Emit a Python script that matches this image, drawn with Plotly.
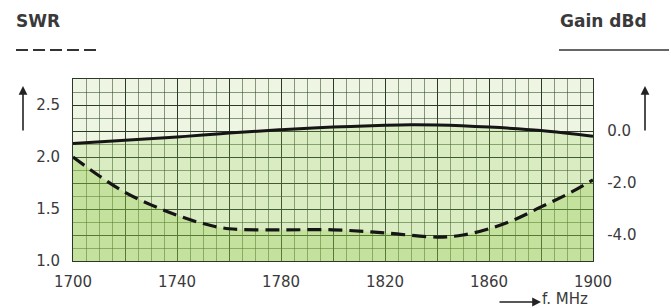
import plotly.graph_objects as go

# ---- data ----
freq_swr = [1700, 1710, 1720, 1730, 1740, 1750, 1760, 1780, 1800, 1820, 1840, 1850, 1860, 1870, 1880, 1890, 1900]
swr = [2.00, 1.82, 1.66, 1.54, 1.44, 1.36, 1.31, 1.30, 1.30, 1.27, 1.23, 1.25, 1.31, 1.40, 1.52, 1.64, 1.78]

freq_gain = [1700, 1720, 1740, 1760, 1780, 1800, 1820, 1830, 1840, 1860, 1880, 1900]
gain = [-0.48, -0.36, -0.23, -0.08, 0.05, 0.15, 0.22, 0.24, 0.23, 0.15, 0.02, -0.20]

x_ticks = list(range(1700, 1901, 20))
x_ticktext = [str(v) if (v - 1700) % 40 == 0 else "" for v in x_ticks]

swr_range = [1.0, 2.75]
swr_ticks = [1.0, 1.5, 2.0, 2.5]
swr_ticktext = ["1.0", "1.5", "2.0", "2.5"]

gain_range = [-5, 2]
gain_ticks = list(range(-5, 3))
gain_ticktext = ["-4.0" if v == -4 else "-2.0" if v == -2 else "0.0" if v == 0 else "" for v in gain_ticks]
gain_floor = [gain_range[0]] * len(freq_gain)

# ---- layout geometry (pixels) ----
W, H = 671, 308
L, R, T, B = 73, 593, 79, 261


def px(x):
    return (x - L) / (R - L)


def py(y):
    return (B - y) / (B - T)


FONT = "DejaVu Sans"
TXT = "#3a3a3a"
MAJOR = "#2b3a28"
MINOR = "rgba(45,70,35,0.55)"

fig = go.Figure()

# gain area (right axis, base layer)
fig.add_trace(go.Scatter(x=freq_gain, y=gain_floor, mode="lines", line=dict(width=0),
                         hoverinfo="skip", showlegend=False, yaxis="y"))
fig.add_trace(go.Scatter(x=freq_gain, y=gain, mode="lines", line=dict(color="rgba(0,0,0,0)", width=0, shape="spline"),
                         fill="tonexty", fillcolor="rgba(150,205,80,0.22)", showlegend=False, yaxis="y"))
# swr area (left axis overlay)
fig.add_trace(go.Scatter(x=freq_swr, y=swr, mode="lines", line=dict(color="rgba(0,0,0,0)", width=0, shape="spline"),
                         fill="tozeroy", fillcolor="rgba(140,200,60,0.28)", showlegend=False, yaxis="y2"))
# lines
fig.add_trace(go.Scatter(x=freq_gain, y=gain, mode="lines", line=dict(color="#151515", width=3, shape="spline"),
                         showlegend=False, yaxis="y"))
fig.add_trace(go.Scatter(x=freq_swr, y=swr, mode="lines",
                         line=dict(color="#151515", width=3.2, shape="spline", dash="14px,7px"),
                         showlegend=False, yaxis="y2"))

fig.update_layout(
    width=W, height=H,
    margin=dict(l=L, r=W - R, t=T, b=H - B),
    paper_bgcolor="white",
    plot_bgcolor="#eef5e2",
    font=dict(family=FONT, size=15, color=TXT),
    xaxis=dict(range=[1700, 1900], tickmode="array", tickvals=x_ticks, ticktext=x_ticktext,
               showgrid=True, gridcolor=MAJOR, gridwidth=1.4,
               minor=dict(tickmode="linear", tick0=1700, dtick=5, showgrid=True, gridcolor=MINOR, gridwidth=1),
               ticks="", showline=True, linecolor=MAJOR, linewidth=1.4, mirror=True, zeroline=False,
               ticklabelstandoff=7),
    yaxis=dict(range=gain_range, side="right", tickmode="array", tickvals=gain_ticks, ticktext=gain_ticktext,
               showgrid=True, gridcolor=MAJOR, gridwidth=1.4,
               minor=dict(tickmode="linear", tick0=-5, dtick=0.5, showgrid=True, gridcolor=MINOR, gridwidth=1),
               ticks="", showline=True, linecolor=MAJOR, linewidth=1.4, mirror=True, zeroline=False,
               ticklabelstandoff=10),
    yaxis2=dict(range=swr_range, side="left", overlaying="y", tickmode="array", tickvals=swr_ticks,
                ticktext=swr_ticktext, showgrid=False, zeroline=False, ticks="", showline=False,
                ticklabelstandoff=12),
)

ann = []
ann.append(dict(text="<b>SWR</b>", x=px(14), y=py(21), xref="paper", yref="paper", xanchor="left",
                yanchor="middle", showarrow=False, font=dict(size=17, color="#3a3a3a")))
ann.append(dict(text="<b>Gain dBd</b>", x=px(558), y=py(21), xref="paper", yref="paper", xanchor="left",
                yanchor="middle", showarrow=False, font=dict(size=17, color="#3a3a3a")))
ann.append(dict(text="f. MHz", x=px(540), y=py(299), xref="paper", yref="paper", xanchor="left",
                yanchor="middle", showarrow=False, font=dict(size=15, color=TXT)))
# arrows
for ax_x in (23, 645):
    ann.append(dict(text="", x=px(ax_x), y=py(86), xref="paper", yref="paper", showarrow=True,
                    ax=0, ay=46, arrowhead=2, arrowsize=1.1, arrowwidth=1.6, arrowcolor="#222"))
ann.append(dict(text="", x=px(541), y=py(302), xref="paper", yref="paper", showarrow=True,
                ax=-43, ay=0, arrowhead=2, arrowsize=1.1, arrowwidth=1.6, arrowcolor="#222"))
fig.update_layout(annotations=ann)

shapes = [
    dict(type="line", xref="paper", yref="paper", x0=px(16), x1=px(100), y0=py(50), y1=py(50),
         line=dict(color="#333", width=2, dash="12px,5px")),
    dict(type="line", xref="paper", yref="paper", x0=px(559), x1=px(669), y0=py(50), y1=py(50),
         line=dict(color="#333", width=1.6)),
]
fig.update_layout(shapes=shapes)

fig.write_html("out.html", config={"displayModeBar": False},
               post_script="document.body.style.margin='0';document.body.style.overflow='hidden';")
